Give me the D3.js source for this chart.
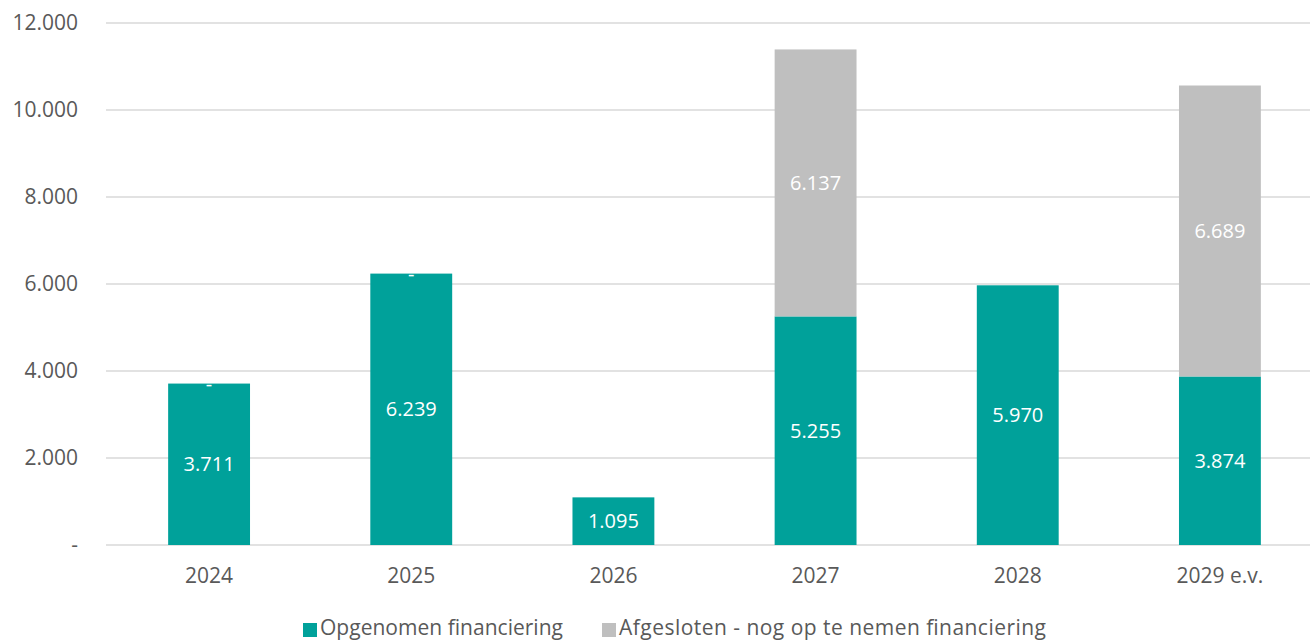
<!DOCTYPE html>
<html>
<head>
<meta charset="utf-8">
<script src="https://cdn.jsdelivr.net/npm/d3@7"></script>
<style>
  body { margin: 0; background: #fff; }
  svg { display: block; font-family: "Open Sans", sans-serif; }
</style>
</head>
<body>
<div id="chart"></div>
<script>
// Data
const years = ["2024", "2025", "2026", "2027", "2028", "2029 e.v."];
const opgenomen = [3711, 6239, 1095, 5255, 5970, 3874];
const afgesloten = [0, 0, null, 6137, null, 6689];
const yTicks = [0, 2000, 4000, 6000, 8000, 10000, 12000];
const seriesNames = ["Opgenomen financiering", "Afgesloten - nog op te nemen financiering"];
const colors = ["#00a19a", "#bfbfbf"];

const width = 1310, height = 640;
const svg = d3.select("#chart").append("svg")
    .attr("width", width)
    .attr("height", height);

// Scales
const x = d3.scaleBand().domain(years).range([108, 1321]).paddingInner(0.595).paddingOuter(0.2975);
const y = d3.scaleLinear().domain([0, 12000]).range([545, 23]);

const fmt = v => v === 0 ? "-" : d3.format(",")(v).replace(/,/g, ".");

// Gridlines
svg.append("g")
    .selectAll("line")
    .data(yTicks)
    .join("line")
    .attr("x1", 106)
    .attr("x2", width)
    .attr("y1", d => y(d))
    .attr("y2", d => y(d))
    .attr("stroke", "#d9d9d9")
    .attr("stroke-width", 1.5);

// Y tick labels
svg.append("g")
    .selectAll("text")
    .data(yTicks)
    .join("text")
    .attr("x", 78)
    .attr("y", d => y(d))
    .attr("dy", "0.35em")
    .attr("text-anchor", "end")
    .attr("font-size", 21)
    .attr("fill", "#595959")
    .text(d => fmt(d));

// Stacked data
const rows = years.map((yr, i) => ({ year: yr, a: opgenomen[i], b: afgesloten[i] }));
const stack = d3.stack().keys(["a", "b"]).value((d, k) => d[k] || 0);
const layers = stack(rows);

const layerG = svg.append("g")
    .selectAll("g")
    .data(layers)
    .join("g")
    .attr("fill", (d, i) => colors[i]);

layerG.selectAll("rect")
    .data(d => d)
    .join("rect")
    .attr("x", d => x(d.data.year))
    .attr("width", x.bandwidth())
    .attr("y", d => y(d[1]))
    .attr("height", d => y(d[0]) - y(d[1]));

// Value labels
layers.forEach((layer, li) => {
    const key = li === 0 ? "a" : "b";
    svg.append("g")
        .selectAll("text")
        .data(layer.filter(d => d.data[key] !== null))
        .join("text")
        .attr("x", d => x(d.data.year) + x.bandwidth() / 2)
        .attr("y", d => (y(d[0]) + y(d[1])) / 2)
        .attr("dy", "0.35em")
        .attr("text-anchor", "middle")
        .attr("font-size", 20)
        .attr("fill", "#fff")
        .text(d => fmt(d.data[key]));
});

// X labels
svg.append("g")
    .selectAll("text")
    .data(years)
    .join("text")
    .attr("x", d => x(d) + x.bandwidth() / 2)
    .attr("y", 576)
    .attr("dy", "0.35em")
    .attr("text-anchor", "middle")
    .attr("font-size", 21)
    .attr("fill", "#595959")
    .text(d => d);

// Legend
const legendX = [303, 602];
const legendLen = [243, 427];
const legend = svg.append("g")
    .selectAll("g")
    .data(seriesNames)
    .join("g")
    .attr("transform", (d, i) => `translate(${legendX[i]},623)`);

legend.append("rect")
    .attr("width", 14)
    .attr("height", 14)
    .attr("fill", (d, i) => colors[i]);

legend.append("text")
    .attr("x", 17)
    .attr("y", 12)
    .attr("font-size", 21)
    .attr("textLength", (d, i) => legendLen[i])
    .attr("lengthAdjust", "spacing")
    .attr("fill", "#595959")
    .text(d => d);
</script>
</body>
</html>
